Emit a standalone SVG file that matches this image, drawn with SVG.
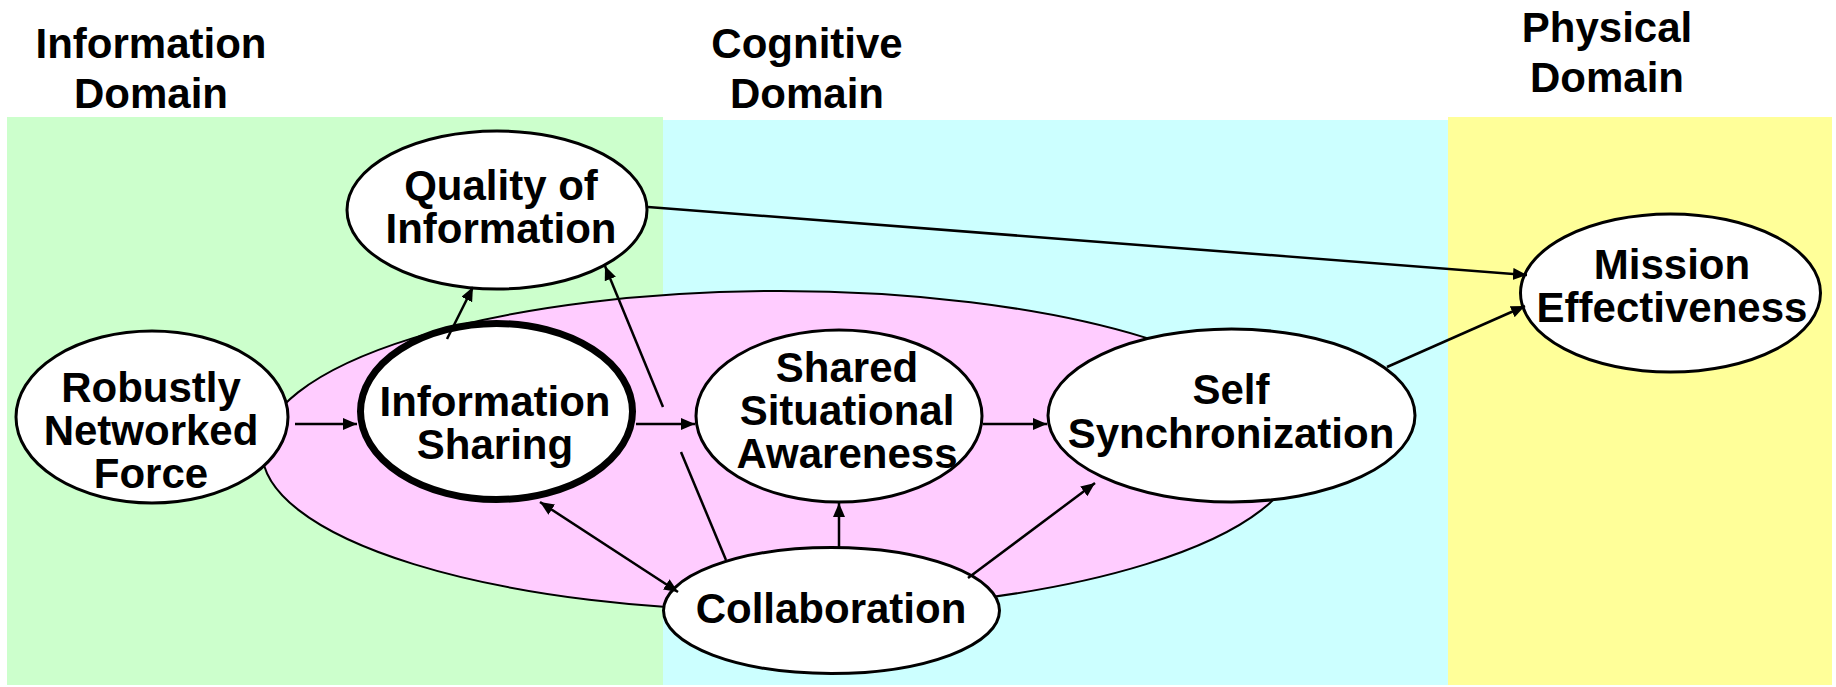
<svg xmlns="http://www.w3.org/2000/svg" width="1836" height="687" viewBox="0 0 1836 687">
<style>
.t{font-family:"Liberation Sans",Arial,Helvetica,sans-serif;font-weight:bold;font-size:42px;fill:#000;text-anchor:middle}
.n{fill:#fff;stroke:#000;stroke-width:3}
.c{stroke:#000;stroke-width:2.5;fill:none}
.a{marker-end:url(#ah)}
</style>
<defs>
<marker id="ah" markerUnits="userSpaceOnUse" markerWidth="16" markerHeight="14" refX="14" refY="6" orient="auto-start-reverse"><path d="M0,0 L14,6 L0,12 z" fill="#000"/></marker>
</defs>
<g id="domains">
<rect x="7" y="117" width="656" height="568" fill="#CCFFCC"/>
<rect x="663" y="120" width="785" height="565" fill="#CCFFFF"/>
<rect x="1448" y="117" width="384" height="568" fill="#FFFF99"/>
<text class="t" x="151" y="58">Information</text>
<text class="t" x="151" y="108">Domain</text>
<text class="t" x="807" y="58">Cognitive</text>
<text class="t" x="807" y="108">Domain</text>
<text class="t" x="1607" y="42">Physical</text>
<text class="t" x="1607" y="92">Domain</text>
</g>
<g id="pink-region">
<ellipse cx="780" cy="451" rx="518" ry="160" fill="#FFCCFF" stroke="#000" stroke-width="2"/>
</g>
<g id="node-qoi">
<ellipse class="n" cx="497" cy="210" rx="150" ry="79"/>
<text class="t" x="501" y="200">Quality of</text>
<text class="t" x="501" y="243">Information</text>
</g>
<g id="node-rnf">
<ellipse class="n" cx="152" cy="417" rx="136" ry="86"/>
<text class="t" x="151" y="402">Robustly</text>
<text class="t" x="151" y="445">Networked</text>
<text class="t" x="151" y="488">Force</text>
</g>
<g id="node-is">
<ellipse cx="496.5" cy="411.5" rx="136" ry="88" fill="#fff" stroke="#000" stroke-width="7"/>
<text class="t" x="495" y="416">Information</text>
<text class="t" x="495" y="459">Sharing</text>
</g>
<g id="node-ssa">
<ellipse class="n" cx="839" cy="416" rx="143" ry="86"/>
<text class="t" x="847" y="382">Shared</text>
<text class="t" x="847" y="425">Situational</text>
<text class="t" x="847" y="468">Awareness</text>
</g>
<g id="node-ss">
<ellipse class="n" cx="1231.5" cy="415.5" rx="183.5" ry="86.5"/>
<text class="t" x="1231" y="404">Self</text>
<text class="t" x="1231" y="448">Synchronization</text>
</g>
<g id="node-me">
<ellipse class="n" cx="1670.5" cy="293" rx="150" ry="79"/>
<text class="t" x="1672" y="279">Mission</text>
<text class="t" x="1672" y="322">Effectiveness</text>
</g>
<g id="node-collab">
<ellipse class="n" cx="831.5" cy="610.5" rx="168" ry="63"/>
<text class="t" x="831" y="623">Collaboration</text>
</g>
<g id="connectors">
<line class="c a" x1="295" y1="424" x2="357" y2="424"/>
<line class="c a" x1="636" y1="424" x2="695" y2="424"/>
<line class="c a" x1="983" y1="424" x2="1047" y2="424"/>
<line class="c a" x1="447" y1="339" x2="473" y2="287"/>
<line class="c" x1="726" y1="560" x2="681" y2="452"/>
<line class="c a" x1="663" y1="407" x2="605" y2="266"/>
<line class="c a" x1="540" y1="502" x2="678" y2="592" style="marker-start:url(#ah)"/>
<line class="c a" x1="839" y1="547" x2="839" y2="503"/>
<line class="c a" x1="968" y1="578" x2="1095" y2="483"/>
<line class="c a" x1="648" y1="207" x2="1527" y2="275"/>
<line class="c a" x1="1387" y1="367" x2="1525" y2="306"/>
</g>
</svg>
